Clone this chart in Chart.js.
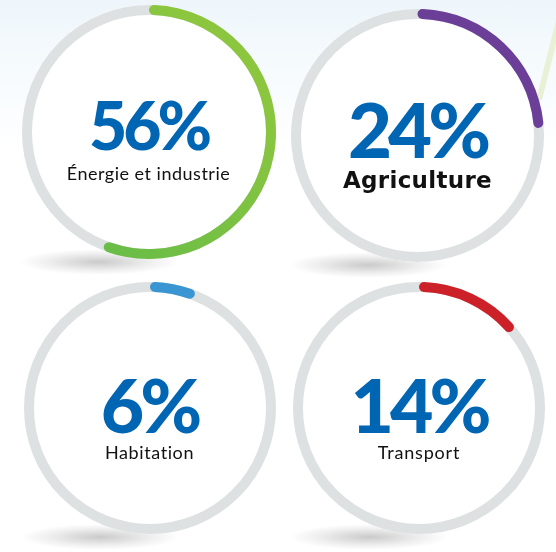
<!DOCTYPE html>
<html>
<head>
<meta charset="utf-8">
<script src="https://cdn.jsdelivr.net/npm/chart.js@4.4.0/dist/chart.umd.min.js"></script>
<style>
    html, body { margin: 0; padding: 0; background: #fff; }
    #stage {
        position: relative; width: 556px; height: 552px; overflow: hidden;
        background: linear-gradient(to bottom, #eef6fb 0, #f5fafd 60px, #ffffff 150px);
    }
    .shadow {
        position: absolute; border-radius: 50%;
        background: radial-gradient(ellipse at center, rgba(80,80,80,0.30) 0, rgba(120,120,120,0.12) 45%, rgba(255,255,255,0) 70%);
    }
    .ring { position: absolute; }
    .txt { position: absolute; white-space: nowrap; text-align: center; }
    .leaf {
        position: absolute; left: 536px; top: 20px; width: 20px; height: 80px;
        background: #e8f1d6; clip-path: polygon(100% 0, 100% 30%, 30% 100%, 0 100%);
    }
</style>
</head>
<body>
<div id="stage"><div class="leaf"></div></div>
<script>
'use strict';

// chart data
const categories = ['Énergie et industrie', 'Agriculture', 'Habitation', 'Transport'];
const shares = [56, 24, 6, 14];
const shareLabels = ['56%', '24%', '6%', '14%'];

// styles
const arcColors = [['#8cc63f', '#6abd47'], '#6b3f98', '#3a96d3', '#cc2129'];
const trackColor = '#dee1e2';
const numberColor = '#0066b3';

// layout of the four rings
const panels = [
    { cx: 148.5, cy: 132,   r: 127,   numBase: 150, numSize: 66, lblBase: 180, lblFont: '400 18px Lato', lblSpace: 0.5 },
    { cx: 417.5, cy: 135.5, r: 126.5, numBase: 158, numSize: 76, lblBase: 188, lblFont: 'bold 23px "DejaVu Sans"', lblSpace: 0.3 },
    { cx: 149.5, cy: 408,   r: 126,   numBase: 433, numSize: 75, lblBase: 459, lblFont: '400 18px Lato', lblSpace: 0.6 },
    { cx: 419,   cy: 407.5, r: 126,   numBase: 433, numSize: 75, lblBase: 459, lblFont: '400 18px Lato', lblSpace: 0.8 }
];
const ringWidth = 10;

const stage = document.getElementById('stage');
const measureCtx = document.createElement('canvas').getContext('2d');

// white disc + grey track behind the coloured arc
const trackPlugin = {
    id: 'track',
    beforeDatasetsDraw(chart) {
        const arc = chart.getDatasetMeta(0).data[0];
        if (!arc) return;
        const ctx = chart.ctx;
        ctx.save();
        ctx.beginPath();
        ctx.arc(arc.x, arc.y, arc.outerRadius, 0, Math.PI * 2);
        ctx.fillStyle = '#ffffff';
        ctx.fill();
        ctx.beginPath();
        ctx.arc(arc.x, arc.y, (arc.outerRadius + arc.innerRadius) / 2, 0, Math.PI * 2);
        ctx.lineWidth = arc.outerRadius - arc.innerRadius;
        ctx.strokeStyle = trackColor;
        ctx.stroke();
        ctx.restore();
    }
};

function placeText(text, font, color, cx, base, spacing) {
    measureCtx.font = font;
    const m = measureCtx.measureText(text);
    const asc = m.fontBoundingBoxAscent, desc = m.fontBoundingBoxDescent;
    const el = document.createElement('div');
    el.className = 'txt';
    el.textContent = text;
    el.style.font = font;
    el.style.lineHeight = (asc + desc) + 'px';
    el.style.color = color;
    el.style.letterSpacing = spacing + 'px';
    el.style.width = '300px';
    el.style.left = (cx - 150) + 'px';
    el.style.top = (base - asc) + 'px';
    stage.appendChild(el);
}

panels.forEach((p, i) => {
    const size = Math.round(p.r * 2);

    const sh = document.createElement('div');
    sh.className = 'shadow';
    sh.style.width = '160px';
    sh.style.height = '26px';
    sh.style.left = (p.cx - 50 - 80) + 'px';
    sh.style.top = (p.cy + p.r - 10) + 'px';
    stage.appendChild(sh);

    const canvas = document.createElement('canvas');
    canvas.className = 'ring';
    canvas.width = size;
    canvas.height = size;
    canvas.style.left = (p.cx - size / 2) + 'px';
    canvas.style.top = (p.cy - size / 2) + 'px';
    stage.appendChild(canvas);

    const color = arcColors[i];
    new Chart(canvas.getContext('2d'), {
        type: 'doughnut',
        data: {
            labels: [categories[i], ''],
            datasets: [{
                data: [shares[i], 100 - shares[i]],
                backgroundColor: (c) => {
                    if (c.dataIndex !== 0) return 'rgba(0,0,0,0)';
                    if (!Array.isArray(color)) return color;
                    const area = c.chart.chartArea;
                    if (!area) return color[0];
                    const g = c.chart.ctx.createLinearGradient(area.right, area.top, area.left, area.bottom);
                    g.addColorStop(0.2, color[0]);
                    g.addColorStop(0.8, color[1]);
                    return g;
                },
                borderWidth: 0,
                borderRadius: (c) => c.dataIndex === 0 ? ringWidth / 2 : 0
            }]
        },
        options: {
            responsive: false,
            animation: false,
            cutout: size / 2 - ringWidth,
            layout: { padding: 0 },
            plugins: { legend: { display: false }, tooltip: { enabled: false } }
        },
        plugins: [trackPlugin]
    });

    placeText(shareLabels[i], '900 ' + p.numSize + 'px Lato', numberColor, p.cx, p.numBase, -4);
    placeText(categories[i], p.lblFont, '#111111', p.cx, p.lblBase, p.lblSpace);
});
</script>
</body>
</html>
